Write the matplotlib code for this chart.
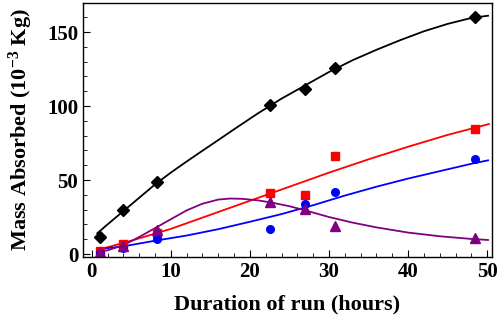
import matplotlib
matplotlib.use("Agg")
import matplotlib.pyplot as plt
from matplotlib.ticker import MultipleLocator

# measured data
hours = [1.0, 4.0, 8.2, 22.5, 27.0, 30.8, 48.5]
black_pts = [11.5, 29.5, 48.5, 101, 111.5, 126, 160]
red_pts = [2.2, 6.8, 14.4, 41.2, 39.6, 66.2, 84.5]
blue_pts = [0.8, 3.8, 10.1, 16.9, 33.8, 41.7, 64.2]
purple_pts = [1.1, 5.5, 16.5, 34.9, 30.2, 19.1, 11.0]

# fitted curves
black_cx = [0.7, 2, 4, 6, 8, 10, 12, 14, 16, 18, 21, 24, 27, 30, 33, 36, 39, 42, 45, 48, 50.1]
black_cy = [14, 20, 29, 38, 47, 55, 62.5, 69.8, 77, 84.3, 95, 105, 114, 123, 131, 138, 144.5, 150.5, 155.5, 159.5, 161]
red_cx = [0.7, 5, 10, 15, 20, 25, 30, 35, 40, 45, 50.2]
red_cy = [2.7, 9, 17, 26.5, 36, 45.5, 55, 64, 72.5, 80.5, 87.8]
blue_cx = [0.7, 4, 8, 12, 16, 20, 24, 28, 32, 36, 40, 44, 48, 50.1]
blue_cy = [3.2, 5.2, 9, 12.5, 16.8, 21.8, 27, 33, 39.5, 45.5, 51, 56, 61, 63.3]
purple_cx = [0.7, 2, 4, 6, 8, 10, 12, 14, 16, 17.5, 19, 21, 23, 25, 27, 30, 33, 36, 40, 44, 48, 50.1]
purple_cy = [1.5, 2.5, 6, 11.5, 17.5, 23.5, 29.5, 34, 36.8, 37.5, 37.3, 36.3, 34.5, 32.3, 29.5, 25, 21.2, 18, 14.5, 12, 10.2, 9.5]

x_ticks = [0, 10, 20, 30, 40, 50]
y_ticks = [0, 50, 100, 150]

plt.rcParams['font.family'] = ['Liberation Serif', 'DejaVu Serif']
plt.rcParams['mathtext.fontset'] = 'custom'
plt.rcParams['mathtext.rm'] = 'Liberation Serif:bold'
plt.rcParams['mathtext.bf'] = 'Liberation Serif:bold'
plt.rcParams['mathtext.default'] = 'bf'

fig = plt.figure(figsize=(4.98, 3.24), dpi=100)
ax = fig.add_axes([83/498, (324-257)/324, (492-83)/498, (257-3)/324])

purple = '#800080'
ax.plot(black_cx, black_cy, color='black', lw=1.3)
ax.plot(red_cx, red_cy, color='#ff0000', lw=1.3)
ax.plot(blue_cx, blue_cy, color='#0000ff', lw=1.3)
ax.plot(purple_cx, purple_cy, color=purple, lw=1.3)

ax.plot(hours, black_pts, 'D', color='black', ms=6, ls='none')
ax.plot(hours, red_pts, 's', color='#ff0000', ms=5.5, ls='none')
ax.plot(hours, blue_pts, 'o', color='#0000ff', ms=5.5, ls='none')
ax.plot(hours, purple_pts, '^', color=purple, ms=6.5, ls='none')

ax.set_xlim(-1.1, 50.6)
ax.set_ylim(-2, 169.6)
ax.set_xticks(x_ticks)
ax.set_yticks(y_ticks)
ax.xaxis.set_minor_locator(MultipleLocator(2))
ax.yaxis.set_minor_locator(MultipleLocator(10))
ax.tick_params(which='both', direction='in', top=False, right=False)
ax.tick_params(which='major', length=5, width=0.8, labelsize=15)
ax.tick_params(which='minor', length=3, width=0.6)
for lab in ax.get_xticklabels() + ax.get_yticklabels():
    lab.set_fontweight('bold')
for s in ax.spines.values():
    s.set_linewidth(1.0)

ax.set_xlabel('Duration of run (hours)', fontsize=16, fontweight='bold', labelpad=9)
ax.set_ylabel(r'Mass Absorbed (10$^{-3}$ Kg)', fontsize=16, fontweight='bold', labelpad=9)

fig.savefig('out.png', dpi=100)
